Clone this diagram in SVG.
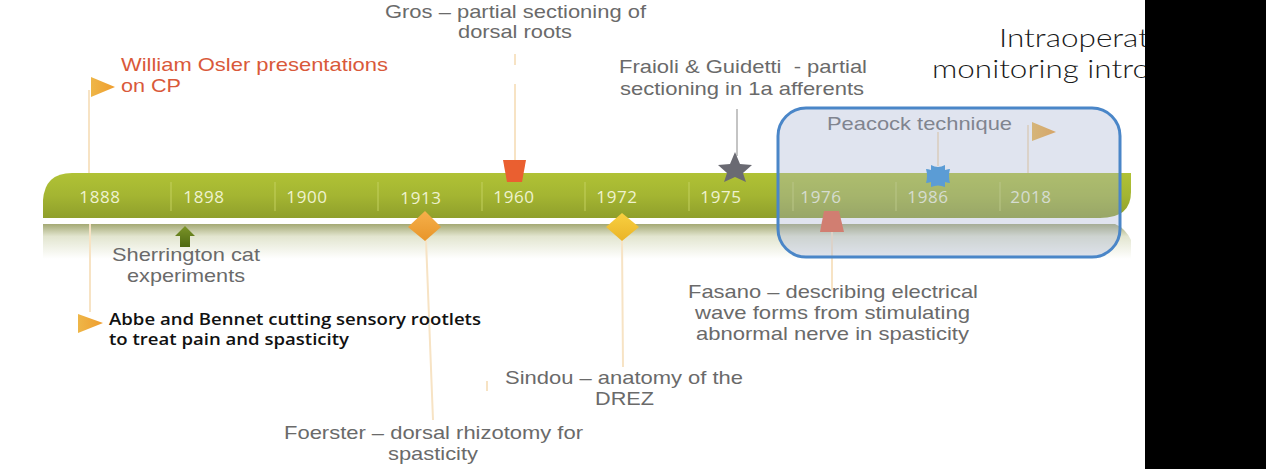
<svg xmlns="http://www.w3.org/2000/svg" width="1266" height="469" viewBox="0 0 1266 469">
<defs>
<linearGradient id="bar" x1="0" y1="0" x2="0" y2="1"><stop offset="0" stop-color="#b0c235"/><stop offset="0.5" stop-color="#a4b532"/><stop offset="1" stop-color="#8f9f2b"/></linearGradient>
<linearGradient id="refl" x1="0" y1="0" x2="0" y2="1"><stop offset="0" stop-color="#a4a974"/><stop offset="0.3" stop-color="#e2e5cf"/><stop offset="0.85" stop-color="#ffffff"/></linearGradient>
<linearGradient id="flag" x1="0" y1="0" x2="1" y2="0"><stop offset="0" stop-color="#eeb648"/><stop offset="1" stop-color="#ef9d2e"/></linearGradient>
<linearGradient id="dia1" x1="0" y1="0" x2="0" y2="1"><stop offset="0" stop-color="#f6b04a"/><stop offset="1" stop-color="#e8952a"/></linearGradient>
<linearGradient id="dia2" x1="0" y1="0" x2="0" y2="1"><stop offset="0" stop-color="#f8d040"/><stop offset="1" stop-color="#eab428"/></linearGradient>
<linearGradient id="arrow" x1="0" y1="0" x2="0" y2="1"><stop offset="0" stop-color="#7b9428"/><stop offset="1" stop-color="#4f6a12"/></linearGradient>
</defs>
<style>
.t{font-family:"Liberation Sans",Arial,sans-serif;font-size:18.5px;fill:#6a6a6a;text-anchor:start}
.o{fill:#d9593a}
.y{font-family:"Open Sans","DejaVu Sans",sans-serif;font-size:17px;letter-spacing:0.6px;fill:#eef2cf;text-anchor:middle}
.s{stroke:#f7e3c4;stroke-width:2;fill:none}
.sep{stroke:#c3d05f;stroke-width:1}
.w{font-family:"Lato","Open Sans",sans-serif;font-weight:300;font-size:26px;fill:#1a1a1a}
.c{font-family:"Open Sans","Liberation Sans",sans-serif;font-weight:600;font-size:16px;fill:#111}
</style>
<rect width="1266" height="469" fill="#fff"/>
<g id="timeline-bar">
<path d="M43 218V200Q45 173 72 173H1131V192Q1131 218 1100 218Z" fill="url(#bar)"/>
<path d="M43 224H1115Q1125 228 1131 240V265H43Z" fill="url(#refl)"/>
<g class="sep"><path d="M171 182V211M275 182V211M378 182V211M482 182V211M585 182V211M689 182V211M793 182V211M896 182V211M1000 182V211"/></g>
<text class="y" x="100" y="203">1888</text><text class="y" x="204" y="203">1898</text><text class="y" x="307" y="203">1900</text><text class="y" x="421" y="204">1913</text><text class="y" x="514" y="203">1960</text><text class="y" x="617" y="203">1972</text><text class="y" x="721" y="203">1975</text><text class="y" x="821" y="203">1976</text><text class="y" x="928" y="203">1986</text><text class="y" x="1031" y="203">2018</text>
</g>
<g id="connectors">
<path class="s" d="M89 90V173M90 224V312M426 240L433 420M622 240L623 367M515 54V65M515 84V162M938 132V166M1028 125V173M832 232V290M487 381V391"/>
<path d="M737 109V156" stroke="#c4c4c4" stroke-width="2" fill="none"/>
</g>
<g id="osler"><path d="M91 77L115 87L91 97Z" fill="url(#flag)"/><text class="t o" x="121" y="71" textLength="267" lengthAdjust="spacingAndGlyphs">William Osler presentations</text><text class="t o" x="121" y="92" textLength="60" lengthAdjust="spacingAndGlyphs">on CP</text></g>
<g id="sherrington"><path d="M185 226L195 236H190V247H180V236H175Z" fill="url(#arrow)"/><text class="t" x="112" y="261" textLength="148" lengthAdjust="spacingAndGlyphs">Sherrington cat</text><text class="t" x="127" y="282" textLength="118" lengthAdjust="spacingAndGlyphs">experiments</text></g>
<g id="abbe"><path d="M78 314L103 323L78 333Z" fill="url(#flag)"/><text class="c" x="109" y="325" textLength="372" lengthAdjust="spacingAndGlyphs">Abbe and Bennet cutting sensory rootlets</text><text class="c" x="109" y="345" textLength="240" lengthAdjust="spacingAndGlyphs">to treat pain and spasticity</text></g>
<g id="foerster"><path d="M425 211L441 227L425 241L408 227Z" fill="url(#dia1)"/><text class="t" x="284" y="439" textLength="299" lengthAdjust="spacingAndGlyphs">Foerster – dorsal rhizotomy for</text><text class="t" x="388" y="460" textLength="90" lengthAdjust="spacingAndGlyphs">spasticity</text></g>
<g id="gros"><path d="M503 160H526L522 182H507Z" fill="#ea5f30"/><text class="t" x="385" y="18" textLength="261" lengthAdjust="spacingAndGlyphs">Gros – partial sectioning of</text><text class="t" x="458" y="38" textLength="114" lengthAdjust="spacingAndGlyphs">dorsal roots</text></g>
<g id="sindou"><path d="M622 213L639 227L622 241L606 227Z" fill="url(#dia2)"/><text class="t" x="505" y="384" textLength="238" lengthAdjust="spacingAndGlyphs">Sindou – anatomy of the</text><text class="t" x="595" y="405" textLength="59" lengthAdjust="spacingAndGlyphs">DREZ</text></g>
<g id="fraioli"><path d="M735 152L740 164L752 165L743 173L746 182L735 177L724 182L727 173L718 165L730 164Z" fill="#6a6a72"/><text class="t" x="619" y="73" textLength="248" lengthAdjust="spacingAndGlyphs" xml:space="preserve">Fraioli &amp; Guidetti  - partial</text><text class="t" x="620" y="95" textLength="244" lengthAdjust="spacingAndGlyphs">sectioning in 1a afferents</text></g>
<g id="fasano"><path d="M824 211H839L844 232H820Z" fill="#e8603a"/><text class="t" x="688" y="298" textLength="290" lengthAdjust="spacingAndGlyphs">Fasano – describing electrical</text><text class="t" x="695" y="319" textLength="275" lengthAdjust="spacingAndGlyphs">wave forms from stimulating</text><text class="t" x="696" y="340" textLength="273" lengthAdjust="spacingAndGlyphs">abnormal nerve in spasticity</text></g>
<g id="peacock"><path d="M931 165Q938 169 945 165L945 170Q949 169 950 169Q948 176 950 183Q948 183 945 182L945 187Q938 184 931 187L931 182Q928 183 926 183Q928 176 926 169Q928 169 931 170Z" fill="#2f8fd6"/><text class="t" x="827" y="130" textLength="185" lengthAdjust="spacingAndGlyphs">Peacock technique</text></g>
<g id="flag-2018"><path d="M1032 122L1056 132L1032 141Z" fill="url(#flag)"/></g>
<g id="highlight"><rect x="778" y="108" width="342" height="149" rx="28" fill="#aab4d2" fill-opacity="0.36" stroke="#4a86c8" stroke-width="3"/></g>
<g id="intraop"><text class="w" x="999" y="47" textLength="150" lengthAdjust="spacingAndGlyphs">Intraoperat</text><text class="w" x="932" y="78" textLength="218" lengthAdjust="spacingAndGlyphs">monitoring intro</text></g>
<rect x="1145" y="0" width="121" height="469" fill="#000"/>
</svg>
